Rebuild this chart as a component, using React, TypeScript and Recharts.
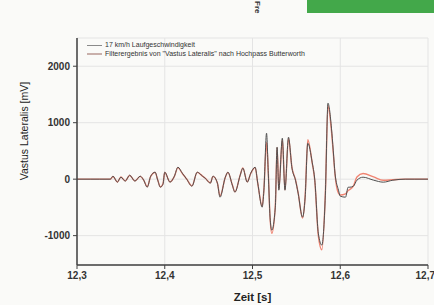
import React from 'react';
import { LineChart, Line, XAxis, YAxis, CartesianGrid } from 'recharts';

// time axis in seconds
const time = [
  12.300, 12.315, 12.326, 12.338, 12.341, 12.346, 12.350, 12.355, 12.360, 12.366,
  12.372, 12.376, 12.380, 12.384, 12.389, 12.392, 12.395, 12.398, 12.400, 12.406,
  12.411, 12.415, 12.420, 12.425, 12.431, 12.437, 12.443, 12.446, 12.452, 12.455,
  12.460, 12.463, 12.469, 12.472, 12.477, 12.480, 12.486, 12.489, 12.494, 12.498,
  12.503, 12.506, 12.511, 12.513, 12.516, 12.518, 12.520, 12.522, 12.526, 12.528,
  12.530, 12.534, 12.537, 12.541, 12.545, 12.549, 12.552, 12.557, 12.560, 12.563,
  12.568, 12.571, 12.575, 12.579, 12.583, 12.586, 12.590, 12.592, 12.594, 12.598,
  12.600, 12.606, 12.609, 12.611, 12.615, 12.619, 12.626, 12.638, 12.649, 12.660,
  12.674, 12.685, 12.700,
];

// 17 km/h Laufgeschwindigkeit (raw EMG, mV)
const raw = [
  0, 0, 0, 0, 53, -53, 35, -35, 71, -35,
  53, -18, -142, 53, 124, -18, -142, -89, 124, -53,
  53, 212, 106, 0, -124, 124, 53, 18, -71, 53,
  -71, -319, 35, 124, -106, -230, 71, 195, -53, 106,
  212, -71, -496, -195, 814, 106, -673, -903, -496, 566,
  -195, 726, -195, 743, 195, -18, -248, -673, -319, 637,
  301, -18, -956, -1168, -283, 1345, 903, 513, 106, -195,
  -301, -319, -142, -142, -124, -18, 35, -18, -53, -18,
  0, 0, 0,
];

// Filterergebnis nach Hochpass Butterworth
const filtered = [
  0, 0, 0, 0, 48, -50, 38, -30, 66, -30,
  50, -15, -135, 50, 120, -12, -135, -80, 118, -48,
  50, 205, 100, 4, -118, 120, 55, 20, -65, 50,
  -68, -300, 30, 120, -100, -225, 75, 200, -45, 100,
  205, -75, -480, -180, 650, 120, -680, -960, -470, 560,
  -180, 700, -190, 720, 200, -10, -240, -690, -300, 700,
  290, -30, -1000, -1250, -260, 1300, 850, 480, 90, -250,
  -280, -260, -200, -180, -120, 40, 100, 40, -20, -10,
  0, 0, 0,
];

const xTicks = [12.3, 12.4, 12.5, 12.6, 12.7];
const yTicks = [-1000, 0, 1000, 2000];

const legendLabels = [
  '17 km/h Laufgeschwindigkeit',
  'Filterergebnis von "Vastus Lateralis" nach Hochpass Butterworth',
];

const data = time.map((t, i) => ({ t, raw: raw[i], filtered: filtered[i] }));

const font = '"Liberation Sans", Arial, sans-serif';
const axisColor = '#404040';

export default function App() {
  return (
    <div style={{ position: 'absolute', left: 0, top: 0, width: 434, height: 305, background: '#fafaf8', fontFamily: font, overflow: 'hidden' }}>
      {/* bits of the neighbouring figure in the photo */}
      <div style={{ position: 'absolute', left: 307, top: 0, width: 127, height: 13, background: '#43a84a' }} />
      <div style={{ position: 'absolute', left: 252, top: 1, fontSize: 8, fontWeight: 'bold', color: '#333', transform: 'rotate(90deg)', transformOrigin: '0 0', whiteSpace: 'nowrap', marginLeft: 10 }}>Fre</div>

      <LineChart width={434} height={305} data={data} margin={{ top: 38, right: 6, bottom: 0, left: 0 }}>
        <CartesianGrid stroke="#e4e4e4" strokeWidth={1} />
        <XAxis
          dataKey="t"
          type="number"
          domain={[12.3, 12.7]}
          ticks={xTicks}
          allowDataOverflow
          height={40}
          tickFormatter={(v: number) => v.toFixed(1).replace('.', ',')}
          tick={{ fill: '#333', fontSize: 10, fontWeight: 'bold', fontFamily: font }}
          axisLine={{ stroke: axisColor, strokeWidth: 1.5 }}
          tickLine={{ stroke: axisColor }}
          tickSize={4}
          tickMargin={3}
          label={{ value: 'Zeit [s]', position: 'insideBottom', offset: 4, fill: '#222', fontSize: 11.5, fontWeight: 'bold', fontFamily: font }}
        />
        <XAxis
          xAxisId="top"
          orientation="top"
          type="number"
          domain={[12.3, 12.7]}
          height={0}
          tick={false}
          tickLine={false}
          axisLine={{ stroke: axisColor, strokeWidth: 1.5 }}
        />
        <YAxis
          type="number"
          domain={[-1520, 2500]}
          ticks={yTicks}
          allowDataOverflow
          width={77}
          tick={{ fill: '#333', fontSize: 10, fontWeight: 'bold', fontFamily: font }}
          axisLine={{ stroke: axisColor, strokeWidth: 1.5 }}
          tickLine={{ stroke: axisColor }}
          tickSize={4}
          tickMargin={3}
          label={{
            content: () => (
              <text x={24} y={131} transform="rotate(-90 24 131)" textAnchor="middle" dominantBaseline="central" fill="#222" fontSize={10.5} fontFamily={font}>
                Vastus Lateralis [mV]
              </text>
            ),
          }}
        />
        <YAxis
          yAxisId="right"
          orientation="right"
          type="number"
          domain={[-1520, 2500]}
          width={0}
          tick={false}
          tickLine={false}
          axisLine={{ stroke: axisColor, strokeWidth: 1.5 }}
        />
        <Line type="monotone" dataKey="filtered" stroke="#f08472" strokeWidth={1.4} dot={false} isAnimationActive={false} />
        <Line type="monotone" dataKey="raw" stroke="#505050" strokeWidth={1} dot={false} isAnimationActive={false} />
      </LineChart>

      <div style={{ position: 'absolute', left: 87, top: 41, fontSize: 7, lineHeight: '8.5px', color: '#333' }}>
        {legendLabels.map((label, i) => (
          <div key={label} style={{ display: 'flex', alignItems: 'center', whiteSpace: 'nowrap' }}>
            <span style={{ display: 'inline-block', width: 15, height: 1.5, marginRight: 3, background: i === 0 ? '#8a8a8a' : '#c9b0ab' }} />
            {label}
          </div>
        ))}
      </div>
    </div>
  );
}
